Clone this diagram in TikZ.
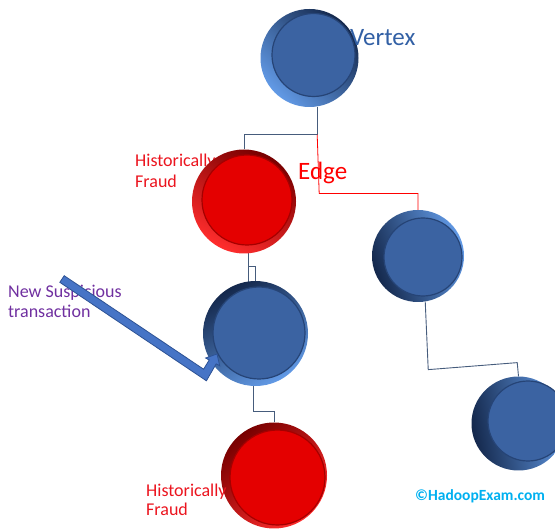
\documentclass[tikz,border=0pt]{standalone}
\usepackage{fontspec}
\setmainfont{Carlito}
\usetikzlibrary{calc,backgrounds}

\definecolor{bface}{RGB}{59,99,162}
\definecolor{blight}{RGB}{98,154,230}
\definecolor{bdark}{RGB}{20,40,76}
\definecolor{bring}{RGB}{38,68,118}
\definecolor{rface}{RGB}{228,0,0}
\definecolor{rlight}{RGB}{255,45,45}
\definecolor{rdark}{RGB}{120,0,0}
\definecolor{rring}{RGB}{165,0,0}
\definecolor{edgeblue}{RGB}{70,92,124}
\definecolor{vtxblue}{RGB}{50,96,165}
\definecolor{fraudred}{RGB}{235,20,30}
\definecolor{purp}{RGB}{112,48,160}
\definecolor{cyanmark}{RGB}{0,176,240}
\definecolor{arrfill}{RGB}{70,116,198}
\definecolor{arredge}{RGB}{45,82,148}

\tikzset{
  disc/.style={circle, inner sep=0pt, minimum size=#1},
  brim/.style={shading=axis, top color=bdark, bottom color=blight, shading angle=#1},
  bfacestyle/.style={fill=bface, draw=bring, line width=1.2pt},
  rrim/.style={shading=axis, top color=rdark, bottom color=rlight, shading angle=#1},
  rfacestyle/.style={fill=rface, draw=rring, line width=1.2pt},
  conn/.style={draw=edgeblue, line width=0.9pt},
  redconn/.style={draw=red, line width=0.8pt},
  big/.style={font=\fontsize{25}{30}\selectfont, anchor=base west, inner sep=0pt},
  small/.style={font=\fontsize{18}{21}\selectfont, anchor=base west, inner sep=0pt},
  credit/.style={font=\fontsize{15.5}{18}\selectfont\bfseries, anchor=base west, inner sep=0pt},
}

\begin{document}
\begin{tikzpicture}[x=1pt, y=-1pt]
\useasboundingbox (0,0) rectangle (555,529);

% labels sitting behind the upper fraud vertex
\node[small, text=fraudred] (h1a) at (135,167) {Historically};
\node[small, text=fraudred] (h1b) at (135,188) {Fraud};

% vertices: shaded rim plus raised face
\node[disc=98pt, brim=-45] (v0) at (309.5,58) {};
\node[disc=83pt, bfacestyle] (v0f) at (313.5,55) {};

\node[disc=104pt, rrim=-30] (f1) at (244,201.5) {};
\node[disc=90pt, rfacestyle] (f1f) at (247,200) {};

\node[disc=92pt, brim=110] (v1) at (418,256) {};
\node[disc=78pt, bfacestyle] (v1f) at (423,257) {};

\node[disc=105pt, brim=30] (v2) at (255.5,333.5) {};
\node[disc=92pt, bfacestyle] (v2f) at (259,333) {};

\node[disc=94pt, brim=100] (v3) at (518.5,423.5) {};
\node[disc=80pt, bfacestyle] (v3f) at (528,421) {};

\node[disc=106pt, rrim=40] (f2) at (274,475.5) {};
\node[disc=95pt, rfacestyle] (f2f) at (277.5,477.5) {};

% edges between vertices, kept behind the discs
\begin{scope}[on background layer]
  \coordinate (j1) at ($(v0.-81)+(0,28)$);
  \draw[conn] (v0.-81) -- (j1) -| (f1.north);
  \draw[redconn] (j1) -- ++(2,59) -| (v1.north);
  \coordinate (j2) at ($(f1.-85)+(0,13)$);
  \draw[conn] (f1.-85) -- ++(0,30);
  \draw[conn] (j2) -| (v2.north);
  \draw[conn] (v2.-92) -- ++(0,25) -| (f2.north);
  \draw[conn] (v1.-81) -- ++(3,68) -- ++(89,-7) -- (v3.north);
\end{scope}

% labels
\node[big, text=vtxblue] (vtx) at (350,46) {Vertex};
\node[big, text=red] (edg) at (298,180) {Edge};
\node[small, text=purp] (ns1) at (8,298) {New Suspicious};
\node[small, text=purp] (ns2) at (8,318) {transaction};
\node[small, text=fraudred] (h2a) at (146,497) {Historically};
\node[small, text=fraudred] (h2b) at (146,516) {Fraud};
\node[credit, text=cyanmark] (cpr) at (415,501) {©HadoopExam.com};

% bent block arrow pointing at the new transaction
\filldraw[fill=arrfill, draw=arredge, line width=0.8pt, line join=miter]
  (64.2,275.7) -- (203.6,369.2) -- (209.2,360.0) -- (205.6,358.0)
  -- (217,354) -- (219.7,365.8) -- (216.2,363.8) -- (206.4,380.8)
  -- (59.8,282.3) -- cycle;
\end{tikzpicture}
\end{document}
